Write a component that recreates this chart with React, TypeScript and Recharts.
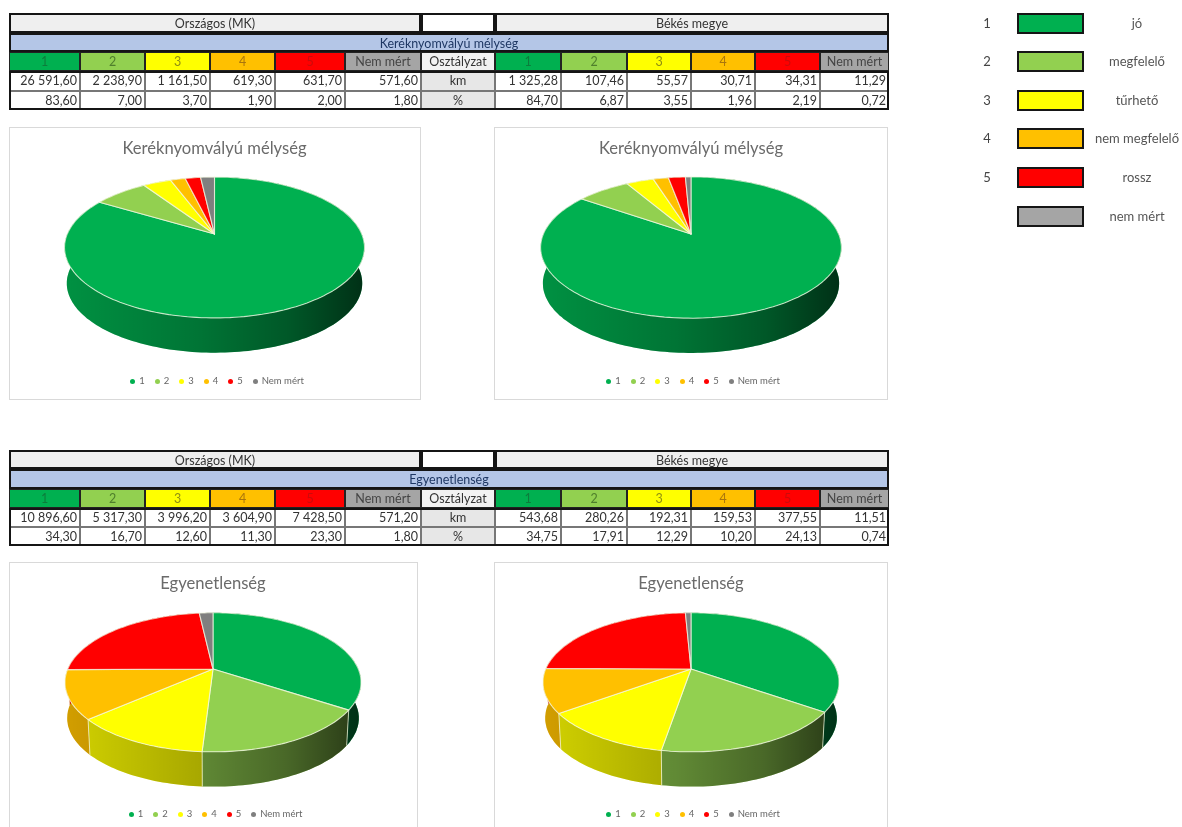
import { Cell, Legend, Pie, PieChart } from "recharts";

const CATEGORIES = ["1", "2", "3", "4", "5", "Nem mért"];
const COLORS = ["#00b050", "#92d050", "#ffff00", "#ffc000", "#ff0000", "#a5a5a5"];
const HEADER_TEXT = ["#0c7d3c", "#4f7f2c", "#8f8f12", "#a9750d", "#cc0a0a", "#444"];
const PIE_GREY = "#7f7f7f";

const RUT_NATIONAL_KM = [26591.6, 2238.9, 1161.5, 619.3, 631.7, 571.6];
const RUT_NATIONAL_PCT = [83.6, 7.0, 3.7, 1.9, 2.0, 1.8];
const RUT_BEKES_KM = [1325.28, 107.46, 55.57, 30.71, 34.31, 11.29];
const RUT_BEKES_PCT = [84.7, 6.87, 3.55, 1.96, 2.19, 0.72];

const ROUGH_NATIONAL_KM = [10896.6, 5317.3, 3996.2, 3604.9, 7428.5, 571.2];
const ROUGH_NATIONAL_PCT = [34.3, 16.7, 12.6, 11.3, 23.3, 1.8];
const ROUGH_BEKES_KM = [543.68, 280.26, 192.31, 159.53, 377.55, 11.51];
const ROUGH_BEKES_PCT = [34.75, 17.91, 12.29, 10.2, 24.13, 0.74];

const LEGEND_NUMBERS = ["1", "2", "3", "4", "5", ""];
const LEGEND_LABELS = ["jó", "megfelelő", "tűrhető", "nem megfelelő", "rossz", "nem mért"];
const LEGEND_TOPS = [13, 51, 90, 128, 167, 206];

const COL_X = [9, 80, 145, 210, 275, 345, 421, 495, 561, 627, 691, 755, 820, 889];
const FONT = "Lato, 'Open Sans', sans-serif";

// projection of the flat pie to the tilted 3D look
const TILT = 0.461;
const PERSPECTIVE = 0.1915;
const BASE_SCALE = 0.985;
const BASE_DROP = 36;

function project(cx: number, cy: number, r: number, deg: number, scale = 1, drop = 0) {
  const a = (deg * Math.PI) / 180;
  const u = Math.cos(a);
  const v = -Math.sin(a);
  const d = 1 - PERSPECTIVE * v;
  return [cx + (scale * r * u) / d, cy + drop + (scale * r * TILT * v) / d];
}

function arcPoints(p: any, scale = 1, drop = 0) {
  const steps = Math.max(2, Math.ceil(Math.abs(p.endAngle - p.startAngle) / 1.5));
  const pts = [];
  for (let i = 0; i <= steps; i++) {
    const deg = p.startAngle + ((p.endAngle - p.startAngle) * i) / steps;
    pts.push(project(p.cx, p.cy, p.outerRadius, deg, scale, drop));
  }
  return pts;
}

const toPath = (pts: number[][]) => "M" + pts.map((q) => `${q[0].toFixed(1)},${q[1].toFixed(1)}`).join("L") + "Z";

function TopSlice(p: any) {
  const pts = [[p.cx, p.cy], ...arcPoints(p)];
  return <path d={toPath(pts)} fill={p.fill} stroke="#f4f8e4" strokeOpacity={0.75} strokeWidth={1.1} strokeLinejoin="round" />;
}

function WallSlice(p: any) {
  const top = arcPoints(p);
  const base = arcPoints(p, BASE_SCALE, BASE_DROP);
  const d = toPath([...top, ...[...base].reverse()]);
  const id = `shade-${Math.round(p.cx)}-${Math.round(p.startAngle * 10)}`;
  const seam = top[0];
  const seamEnd = base[0];
  return (
    <g>
      <defs>
        <linearGradient id={id} gradientUnits="userSpaceOnUse" x1={p.cx - p.outerRadius} x2={p.cx + p.outerRadius} y1={0} y2={0}>
          <stop offset="0" stopColor="#000" stopOpacity={0.18} />
          <stop offset="0.45" stopColor="#000" stopOpacity={0.34} />
          <stop offset="0.75" stopColor="#000" stopOpacity={0.5} />
          <stop offset="1" stopColor="#000" stopOpacity={0.72} />
        </linearGradient>
      </defs>
      <path d={d} fill={p.fill} />
      <path d={d} fill={`url(#${id})`} />
      <line x1={seam[0]} y1={seam[1]} x2={seamEnd[0]} y2={seamEnd[1]} stroke="#f4f8e4" strokeOpacity={0.7} strokeWidth={1} />
    </g>
  );
}

function PieCard({ title, values, left, top, width, height, cx, cy, r, legendTop }: any) {
  const data = CATEGORIES.map((name, i) => ({ name, value: values[i] }));
  const cells = data.map((_, i) => <Cell key={i} fill={i === 5 ? PIE_GREY : COLORS[i]} />);
  return (
    <div style={{ position: "absolute", left, top, width, height, background: "#fff", border: "1px solid #d9d9d9", boxSizing: "border-box" }}>
      <div style={{ position: "absolute", left: -1, top: -1 }}>
        <PieChart width={width} height={height} margin={{ top: 0, right: 0, bottom: 0, left: 0 }}>
          <Pie data={data} dataKey="value" nameKey="name" cx={cx} cy={cy} outerRadius={r} startAngle={90} endAngle={-270} legendType="none" shape={WallSlice} isAnimationActive={false}>
            {cells}
          </Pie>
          <Pie data={data} dataKey="value" nameKey="name" cx={cx} cy={cy} outerRadius={r} startAngle={90} endAngle={-270} shape={TopSlice} isAnimationActive={false}>
            {cells}
          </Pie>
          <Legend
            iconType="circle"
            iconSize={5}
            wrapperStyle={{ top: legendTop, left: 7, fontSize: 9.5, fontFamily: FONT, lineHeight: "12px" }}
            formatter={(v: string) => <span style={{ color: "#666" }}>{v}</span>}
          />
          <text x={cx} y={27} textAnchor="middle" fontFamily={FONT} fontSize={16.6} fill="#6b6b6b">
            {title}
          </text>
        </PieChart>
      </div>
    </div>
  );
}

function formatNum(n: number) {
  const [whole, dec] = n.toFixed(2).split(".");
  return whole.replace(/\B(?=(\d{3})+$)/g, " ") + "," + dec;
}

function Box({ x0, x1, y0, y1, bg, color, align, border, children }: any) {
  return (
    <div
      style={{
        position: "absolute",
        left: x0,
        top: y0,
        width: x1 - x0,
        height: y1 - y0,
        boxSizing: "border-box",
        background: bg ?? "#fff",
        color: color ?? "#333",
        border: border ?? "1px solid #777",
        textAlign: align ?? "center",
        lineHeight: `${y1 - y0 - 2}px`,
        paddingRight: align === "right" ? 2 : 0,
        whiteSpace: "nowrap",
        overflow: "hidden",
      }}
    >
      {children}
    </div>
  );
}

function DataTable({ rows, subtitle, natKm, natPct, bekKm, bekPct }: any) {
  const thick = "2px solid #151515";
  const headerCells = (start: number) =>
    CATEGORIES.map((c, i) => (
      <Box key={c} x0={COL_X[start + i]} x1={COL_X[start + i + 1]} y0={rows[2]} y1={rows[3]} bg={COLORS[i]} color={HEADER_TEXT[i]} border="1.5px solid #222">
        {c}
      </Box>
    ));
  const valueCells = (start: number, vals: number[], r: number) =>
    vals.map((v, i) => (
      <Box key={i} x0={COL_X[start + i]} x1={COL_X[start + i + 1]} y0={rows[r]} y1={rows[r + 1]} align="right">
        {formatNum(v)}
      </Box>
    ));
  return (
    <>
      <Box x0={COL_X[0]} x1={COL_X[6]} y0={rows[0]} y1={rows[1]} bg="#efefef" border={thick}>Országos (MK)</Box>
      <Box x0={COL_X[6]} x1={COL_X[7]} y0={rows[0]} y1={rows[1]} border={thick} />
      <Box x0={COL_X[7]} x1={COL_X[13]} y0={rows[0]} y1={rows[1]} bg="#efefef" border={thick}>Békés megye</Box>
      <Box x0={COL_X[0]} x1={COL_X[13]} y0={rows[1]} y1={rows[2]} bg="#b4c6e7" color="#1f3864" border={thick}>{subtitle}</Box>
      {headerCells(0)}
      <Box x0={COL_X[6]} x1={COL_X[7]} y0={rows[2]} y1={rows[3]} bg="#f2f2f2" border="1.5px solid #222">Osztályzat</Box>
      {headerCells(7)}
      {valueCells(0, natKm, 3)}
      <Box x0={COL_X[6]} x1={COL_X[7]} y0={rows[3]} y1={rows[4]} bg="#e7e7e7">km</Box>
      {valueCells(7, bekKm, 3)}
      {valueCells(0, natPct, 4)}
      <Box x0={COL_X[6]} x1={COL_X[7]} y0={rows[4]} y1={rows[5]} bg="#e7e7e7">%</Box>
      {valueCells(7, bekPct, 4)}
      <div style={{ position: "absolute", left: COL_X[0], top: rows[3], width: COL_X[13] - COL_X[0], height: rows[5] - rows[3], border: thick, boxSizing: "border-box" }} />
    </>
  );
}

export default function App() {
  return (
    <div style={{ position: "absolute", left: 0, top: 0, width: 1182, height: 827, overflow: "hidden", background: "#fff", fontFamily: FONT, fontSize: 12.5, filter: "blur(0.55px)" }}>
      <DataTable rows={[13, 33, 52, 71, 91, 110]} subtitle="Keréknyomvályú mélység" natKm={RUT_NATIONAL_KM} natPct={RUT_NATIONAL_PCT} bekKm={RUT_BEKES_KM} bekPct={RUT_BEKES_PCT} />
      <DataTable rows={[450, 469, 489, 508, 527, 546]} subtitle="Egyenetlenség" natKm={ROUGH_NATIONAL_KM} natPct={ROUGH_NATIONAL_PCT} bekKm={ROUGH_BEKES_KM} bekPct={ROUGH_BEKES_PCT} />

      <PieCard title="Keréknyomvályú mélység" values={RUT_NATIONAL_KM} left={9} top={127} width={412} height={273} cx={205.5} cy={107} r={147.2} legendTop={247.5} />
      <PieCard title="Keréknyomvályú mélység" values={RUT_BEKES_KM} left={494} top={127} width={394} height={273} cx={197} cy={107} r={147.6} legendTop={247.5} />
      <PieCard title="Egyenetlenség" values={ROUGH_NATIONAL_KM} left={9} top={562} width={409} height={280} cx={204} cy={107} r={145.3} legendTop={246} />
      <PieCard title="Egyenetlenség" values={ROUGH_BEKES_KM} left={494} top={562} width={394} height={280} cx={197} cy={107} r={145.3} legendTop={246} />

      {LEGEND_LABELS.map((label, i) => (
        <div key={label} style={{ fontSize: 13 }}>
          <div style={{ position: "absolute", left: 977, width: 20, top: LEGEND_TOPS[i], height: 20, lineHeight: "20px", textAlign: "center", color: "#444" }}>{LEGEND_NUMBERS[i]}</div>
          <div style={{ position: "absolute", left: 1017, top: LEGEND_TOPS[i], width: 67, height: 21, boxSizing: "border-box", background: COLORS[i], border: "2.5px solid #161616" }} />
          <div style={{ position: "absolute", left: 1087, width: 100, top: LEGEND_TOPS[i], height: 20, lineHeight: "20px", textAlign: "center", color: "#555", whiteSpace: "nowrap" }}>{label}</div>
        </div>
      ))}
    </div>
  );
}
